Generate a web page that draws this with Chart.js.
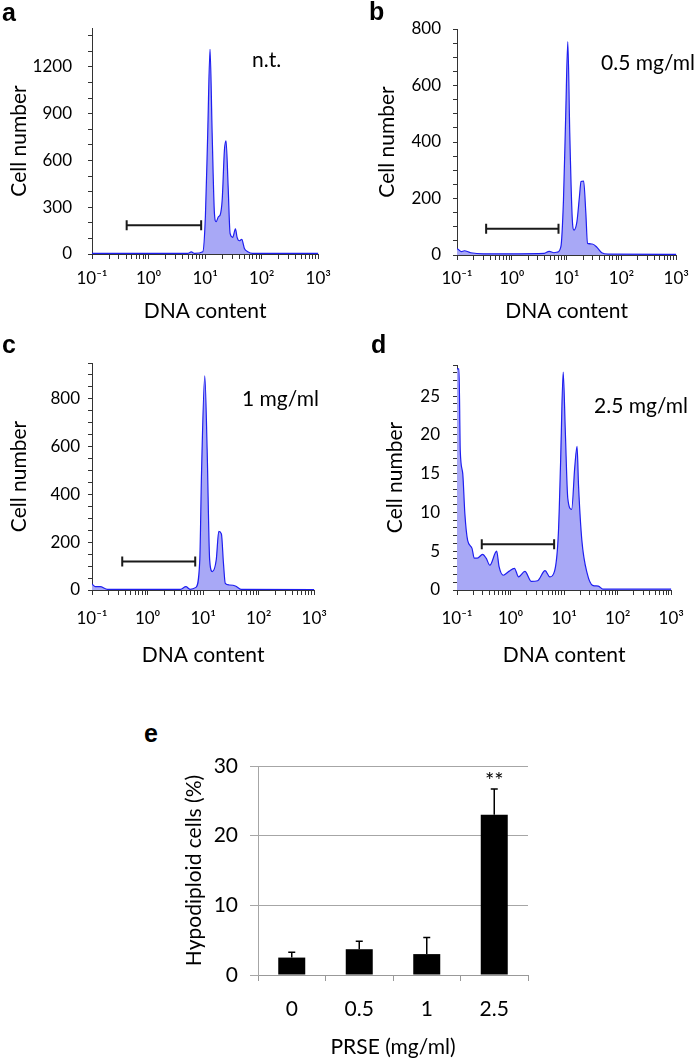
<!DOCTYPE html>
<html>
<head>
<meta charset="utf-8">
<script src="https://cdn.jsdelivr.net/npm/chart.js@4.4.0/dist/chart.umd.min.js"></script>
<style>
  body { margin: 0; background: #fff; }
  #page { position: relative; width: 697px; height: 1061px; overflow: hidden; font-family: Lato, sans-serif; color: #000; }
  canvas { position: absolute; }
  .letter { position: absolute; font-family: "Liberation Sans", Arial, sans-serif; font-weight: bold; font-size: 25px; line-height: 25px; }
  .note { position: absolute; font-size: 21px; line-height: 21px; white-space: nowrap; }
</style>
</head>
<body>
<div id="page">
  <canvas id="chartA" width="340" height="325" style="left:0;top:0"></canvas>
  <canvas id="chartB" width="352" height="325" style="left:345px;top:0"></canvas>
  <canvas id="chartC" width="340" height="340" style="left:0;top:335px"></canvas>
  <canvas id="chartD" width="352" height="340" style="left:345px;top:335px"></canvas>
  <canvas id="chartE" width="380" height="321" style="left:170px;top:740px"></canvas>

  <div class="letter" style="left:2px;top:0">a</div>
  <div class="letter" style="left:369px;top:-1px">b</div>
  <div class="letter" style="left:2px;top:332px">c</div>
  <div class="letter" style="left:371px;top:332px">d</div>
  <div class="letter" style="left:144px;top:721px">e</div>

  <div class="note" style="left:252px;top:48px">n.t.</div>
  <div class="note" style="left:601px;top:51px">0.5 mg/ml</div>
  <div class="note" style="left:242px;top:387px">1 mg/ml</div>
  <div class="note" style="left:594px;top:394px">2.5 mg/ml</div>
</div>

<script>
// histogram traces (DNA content on log axis, cell count)
const aDna   = [0.1, 1, 4.9, 5.7, 6.5, 9.1, 10.1, 11.1, 12.2, 13.3, 14.6, 15.6, 17.2, 18.4, 20, 21.9, 23.4, 25.5, 27.6, 30.7, 34.3, 36.7, 40.4, 44.4, 49.4, 56.6, 69, 1000];
const aCount = [4, 4, 4, 13, 4, 15, 240, 773, 1313, 773, 260, 207, 240, 250, 346, 666, 726, 431, 132, 107, 162, 107, 85, 94, 36, 15, 4, 4];

const bDna   = [0.1, 0.105, 0.12, 0.136, 0.178, 0.305, 3.9, 4.8, 5.85, 6.7, 7.85, 8.75, 9.6, 10.5, 11.4, 12.6, 13.6, 15.4, 17.1, 18.3, 20.4, 22.4, 24, 29.3, 35.8, 43.7, 57, 1000];
const bCount = [22, 20, 12, 15, 8, 4, 6, 13, 8, 10, 30, 195, 490, 755, 430, 136, 88, 118, 206, 260, 262, 148, 41, 39, 27, 8, 3, 2];

const cDna   = [0.1, 0.115, 0.14, 0.19, 1, 3.9, 4.9, 5.8, 7.4, 8.7, 9.35, 10.7, 11.8, 13.1, 14.6, 17.2, 19.1, 21.3, 23.2, 25, 29.5, 38, 48, 1000];
const cCount = [25, 14, 14, 3, 3, 3, 14, 3, 11, 126, 490, 896, 588, 126, 77, 126, 245, 235, 112, 28, 21, 17, 3, 2];

const dDna   = [0.1, 0.109, 0.115, 0.128, 0.14, 0.158, 0.19, 0.21, 0.24, 0.3, 0.35, 0.41, 0.55, 0.61, 0.73, 0.93, 1.18, 1.41, 1.85, 2.45, 3.2, 4.4, 5.4, 6.6, 7.8, 8.6, 9.6, 10.5, 11.7, 13.8, 15.8, 17.4, 18.6, 21.4, 27, 34, 43.5, 53, 1000];
const dCount = [28.5, 28.5, 18, 15, 9.9, 6.4, 5.4, 4.1, 4.1, 4.6, 4.1, 3.2, 5.0, 3.0, 1.9, 2.4, 2.8, 1.7, 2.4, 1.1, 1.2, 2.5, 1.7, 2.4, 7.3, 16.7, 28.1, 20.6, 11.8, 10.4, 15.9, 18.5, 13.3, 6.4, 2.1, 0.6, 0.5, 0.1, 0.1];

// hypodiploid gate (start, end) and the height it is drawn at
const aGate = [0.41, 8.5], aGateY = 185;
const bGate = [0.34, 7.1], bGateY = 93;
const cGate = [0.35, 7.2], cGateY = 119;
const dGate = [0.29, 6.5], dGateY = 5.9;

// panel e
const doses    = ['0', '0.5', '1', '2.5'];
const hypoMean = [2.5, 3.7, 3.0, 23.0];
const hypoErr  = [0.75, 1.15, 2.4, 3.7];
const sigMarks = ['', '', '', '**'];

const decadeLabels = ['10⁻¹', '10⁰', '10¹', '10²', '10³'];

Chart.defaults.font.family = 'Lato, sans-serif';
Chart.defaults.color = '#000';

// log axis ticks 1..9 x 10^n
const logTicks = [];
for (let e = -1; e <= 2; e++) {
  for (let m = 1; m <= 9; m++) logTicks.push(m * Math.pow(10, e));
}
logTicks.push(1000);

function histChart(id, dna, count, gate, gateY, c) {
  const pts = dna.map((d, i) => ({ x: d, y: count[i] }));
  return new Chart(document.getElementById(id), {
    type: 'line',
    data: {
      datasets: [{
        data: pts,
        borderColor: 'rgb(30,30,240)',
        borderWidth: 1.2,
        backgroundColor: 'rgb(168,168,246)',
        fill: 'origin',
        pointRadius: 0,
        cubicInterpolationMode: 'monotone'
      }, {
        data: [{ x: gate[0], y: gateY }, { x: gate[1], y: gateY }],
        borderColor: '#1a1a1a',
        borderWidth: 2,
        fill: false,
        pointStyle: 'line',
        pointRotation: 90,
        pointRadius: 5,
        pointBorderWidth: 2,
        pointBorderColor: '#1a1a1a'
      }]
    },
    options: {
      responsive: false,
      animation: false,
      layout: { padding: { top: c.top, right: c.right, left: 0, bottom: 0 } },
      plugins: { legend: { display: false }, tooltip: { enabled: false } },
      scales: {
        x: {
          type: 'logarithmic',
          min: 0.1,
          max: 1000,
          afterBuildTicks: s => { s.ticks = logTicks.map(v => ({ value: v })); },
          afterFit: s => { s.height = c.xh; },
          grid: { drawOnChartArea: false, tickLength: 5, color: '#333' },
          border: { color: '#333' },
          ticks: {
            autoSkip: false, maxRotation: 0, minRotation: 0,
            padding: c.xtp, font: { size: 17 },
            callback: v => {
              const l = Math.log10(v), r = Math.round(l);
              return Math.abs(l - r) < 1e-6 ? decadeLabels[r + 1] : '';
            }
          },
          title: { display: true, text: 'DNA content', font: { size: 21 }, padding: { top: 0, bottom: c.xtt } }
        },
        y: {
          min: 0,
          max: c.max,
          afterFit: s => { s.width = c.yw; },
          grid: { drawOnChartArea: false, tickLength: 4, color: '#333' },
          border: { color: '#333' },
          ticks: {
            stepSize: c.step, includeBounds: false, autoSkip: false,
            padding: c.ytp, font: { size: 17 },
            callback: v => (v % c.every === 0 ? v : '')
          },
          title: { display: true, text: 'Cell number', font: { size: 21 }, padding: { top: c.ytt, bottom: 0 } }
        }
      }
    }
  });
}

histChart('chartA', aDna, aCount, aGate, aGateY,
  { max: 1450, step: 100, every: 300, top: 28, right: 21, yw: 92, xh: 71, xtp: 9, xtt: 1.5, ytp: 16, ytt: 7 });
histChart('chartB', bDna, bCount, bGate, bGateY,
  { max: 800, step: 50, every: 200, top: 29, right: 14, yw: 112, xh: 70, xtp: 8, xtt: 1.5, ytp: 12, ytt: 30 });
histChart('chartC', cDna, cCount, cGate, cGateY,
  { max: 950, step: 50, every: 200, top: 28, right: 21, yw: 92, xh: 85, xtp: 13, xtt: 7, ytp: 8, ytt: 7 });
histChart('chartD', dDna, dCount, dGate, dGateY,
  { max: 29, step: 1, every: 5, top: 30, right: 16, yw: 112, xh: 85, xtp: 13, xtt: 7, ytp: 13, ytt: 38 });

// error bars and significance marks for panel e
const errorBars = {
  id: 'errorBars',
  afterDatasetsDraw(chart) {
    const ctx = chart.ctx;
    const y = chart.scales.y;
    const bars = chart.getDatasetMeta(0).data;
    ctx.save();
    ctx.strokeStyle = '#000';
    ctx.lineWidth = 1.5;
    bars.forEach((bar, i) => {
      const top = y.getPixelForValue(hypoMean[i] + hypoErr[i]);
      ctx.beginPath();
      ctx.moveTo(bar.x, bar.y);
      ctx.lineTo(bar.x, top);
      ctx.moveTo(bar.x - 3.5, top);
      ctx.lineTo(bar.x + 3.5, top);
      ctx.stroke();
      if (sigMarks[i]) {
        ctx.fillStyle = '#000';
        ctx.font = '22px Lato, sans-serif';
        ctx.textAlign = 'center';
        ctx.textBaseline = 'alphabetic';
        ctx.fillText(sigMarks[i], bar.x, top - 1);
      }
    });
    ctx.restore();
  }
};

new Chart(document.getElementById('chartE'), {
  type: 'bar',
  data: {
    labels: doses,
    datasets: [{
      data: hypoMean,
      backgroundColor: '#000',
      borderColor: '#000',
      borderWidth: 0,
      barPercentage: 0.4,
      categoryPercentage: 1
    }]
  },
  options: {
    responsive: false,
    animation: false,
    layout: { padding: { top: 26, right: 22, left: 0, bottom: 0 } },
    plugins: { legend: { display: false }, tooltip: { enabled: false } },
    scales: {
      x: {
        afterFit: s => { s.height = 86; },
        grid: { offset: true, drawOnChartArea: false, tickLength: 6, color: '#999' },
        border: { color: '#999' },
        ticks: { padding: 16, font: { size: 21 } },
        title: { display: true, text: 'PRSE (mg/ml)', font: { size: 21 }, padding: { top: 0, bottom: 1.5 } }
      },
      y: {
        min: 0,
        max: 30,
        afterFit: s => { s.width = 88; },
        grid: { color: '#a6a6a6', tickLength: 8 },
        border: { color: '#a6a6a6' },
        ticks: { stepSize: 10, padding: 12, font: { size: 21 } },
        title: { display: true, text: 'Hypodiploid cells (%)', font: { size: 21 }, padding: { top: 12, bottom: 0 } }
      }
    }
  },
  plugins: [errorBars]
});
</script>
</body>
</html>
